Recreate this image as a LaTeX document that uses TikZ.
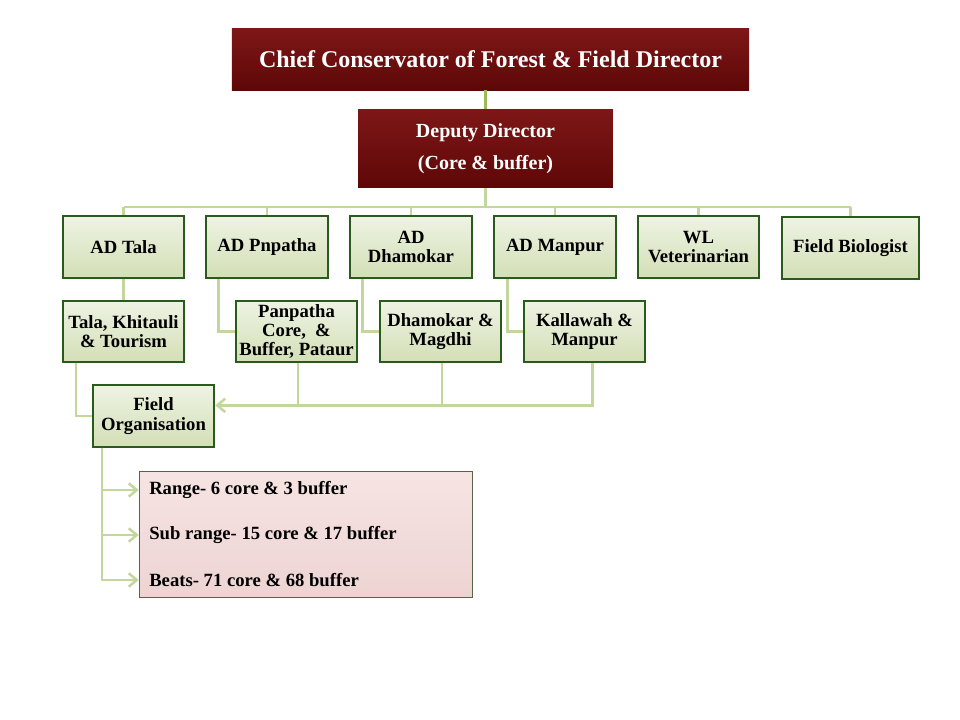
\documentclass[tikz,border=0pt]{standalone}
\usepackage{fontspec}
\setmainfont{Liberation Serif}
\usetikzlibrary{arrows.meta}
\definecolor{maroon}{HTML}{5E0707}
\definecolor{maroonTop}{HTML}{7E1717}
\definecolor{leafTop}{HTML}{EEF3E3}
\definecolor{leafFill}{HTML}{D3DFB6}
\definecolor{leafEdge}{HTML}{2B5A1D}
\definecolor{linkGreen}{HTML}{C3D69B}
\definecolor{stemGreen}{HTML}{9BBB59}
\definecolor{roseTop}{HTML}{F6E4E3}
\definecolor{roseFill}{HTML}{EDD4D3}
\definecolor{roseEdge}{HTML}{56644A}
\tikzset{
  headbox/.style={top color=maroonTop, bottom color=maroon, text=white,
    align=center, inner sep=0pt},
  officebox/.style={draw=leafEdge, line width=1.5pt, top color=leafTop,
    bottom color=leafFill, align=center, inner sep=0pt,
    font=\fontsize{14}{14.5}\selectfont\bfseries,
    minimum width=91pt, minimum height=46pt},
  unitbox/.style={draw=roseEdge, line width=0.9pt, top color=roseTop,
    bottom color=roseFill, inner sep=0pt, minimum width=250pt, minimum height=94pt},
  unittext/.style={anchor=west, inner sep=0pt, font=\fontsize{14}{16}\selectfont\bfseries},
  link/.style={draw=linkGreen, line width=1.9pt},
  linkarrow/.style={link, -{Straight Barb[length=6pt,width=10pt]}},
}
\begin{document}
\begin{tikzpicture}[x=0.75pt,y=-0.75pt]
\useasboundingbox (0,0) rectangle (960,720);

% Drawing box chief
\node[headbox, minimum width=388pt, minimum height=46pt,
      font=\fontsize{18}{20}\selectfont\bfseries] (chief) at (490.5,59.5)
      {Chief Conservator of Forest \& Field Director};

% Drawing box deputy
\node[headbox, minimum width=191pt, minimum height=59pt,
      font=\fontsize{15}{24}\selectfont\bfseries] (deputy) at (485.5,148.5)
      {Deputy Director\\(Core \& buffer)};

% Drawing boxes of the assistant directors
\node[officebox] (adTala) at (123.5,247) {AD Tala};
\node[officebox] (adPanpatha) at (267,247) {AD Pnpatha};
\node[officebox] (adDhamokar) at (411,247) {AD\\Dhamokar};
\node[officebox] (adManpur) at (555,247) {AD Manpur};
\node[officebox] (wlVet) at (698.5,247) {WL\\Veterinarian};
\node[officebox, minimum width=103pt] (fieldBio) at (850.5,248) {Field Biologist};

% Drawing boxes of the ranges
\node[officebox] (tala) at (123.5,331.5) {Tala, Khitauli\\\& Tourism};
\node[officebox] (panpatha) at (296.5,331.5) {Panpatha\\Core,~~\&\\Buffer, Pataur};
\node[officebox] (dhamokar) at (440.5,331.5) {Dhamokar \&\\Magdhi};
\node[officebox] (kallawah) at (584.5,331.5) {Kallawah \&\\Manpur};

% Drawing box field organisation
\node[officebox] (fieldOrg) at (153.5,416) {Field\\Organisation};

% Drawing box units
\node[unitbox] (units) at (306,534.5) {};
\node[unittext] (rangeTxt) at (149,490) {Range- 6 core \& 3 buffer};
\node[unittext] (subTxt) at (149,535) {Sub range- 15 core \& 17 buffer};
\node[unittext] (beatsTxt) at (149,580) {Beats- 71 core \& 68 buffer};

% Drawing segment chief deputy
\draw[draw=stemGreen, line width=1.9pt] (deputy.north |- chief.south) -- (deputy.north);

% Drawing bus below deputy
\coordinate (bus) at (485.5,207);
\draw[link] (deputy.south) -- (bus);
\draw[link] (adTala.north |- bus) -- (fieldBio.north |- bus);
\foreach \n in {adTala,adPanpatha,adDhamokar,adManpur,wlVet,fieldBio}
  \draw[link] (\n.north |- bus) -- (\n.north);

% Drawing segments to the ranges
\draw[link] (adTala.south) -- (tala.north);
\draw[link] ([xshift=10pt]adPanpatha.south west) |- (panpatha.west);
\draw[link] ([xshift=10pt]adDhamokar.south west) |- (dhamokar.west);
\draw[link] ([xshift=10.5pt]adManpur.south west) |- (kallawah.west);
\draw[link] ([xshift=10.5pt]tala.south west) |- (fieldOrg.west);

% Drawing bus to field organisation
\coordinate (orgBus) at ([yshift=8pt]fieldOrg.east);
\draw[linkarrow] ([xshift=6pt]kallawah.south) |- (orgBus);
\draw[link] ([xshift=1pt]panpatha.south) -- ([xshift=1pt]panpatha.south |- orgBus);
\draw[link] ([xshift=1pt]dhamokar.south) -- ([xshift=1pt]dhamokar.south |- orgBus);

% Drawing arrows to the units
\foreach \t in {rangeTxt,subTxt,beatsTxt}
  \draw[linkarrow] ([xshift=7.5pt]fieldOrg.south west) |- (units.west |- \t);
\end{tikzpicture}
\end{document}
